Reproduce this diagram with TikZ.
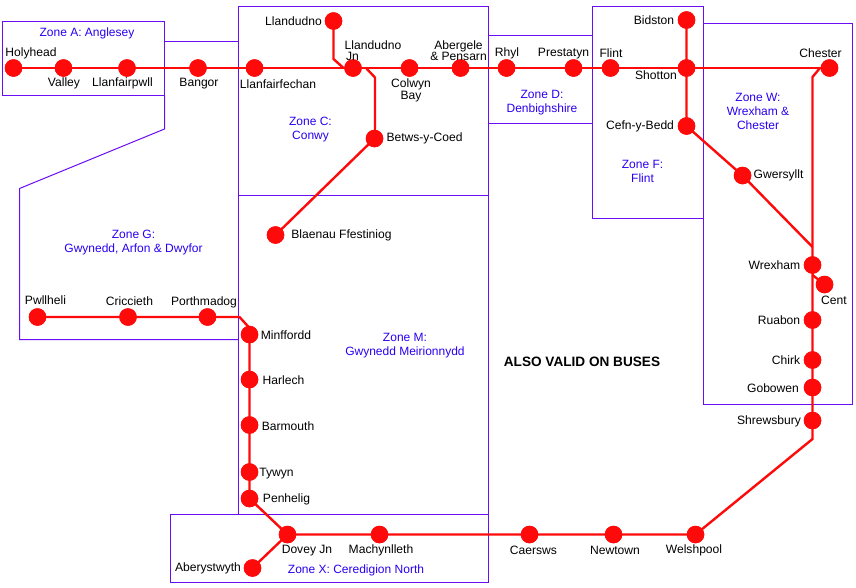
\documentclass[tikz,border=0pt]{standalone}
\usepackage{fontspec}
\setmainfont{Liberation Sans}
\definecolor{zonebox}{HTML}{6A0DF5}
\definecolor{zonetxt}{HTML}{2A00F0}
\definecolor{railred}{HTML}{FF0A0A}
\tikzset{
  zone/.style={draw=zonebox,line width=1pt},
  rail/.style={draw=railred,line width=2.4pt,line join=miter},
  halt/.style={circle,fill=railred,inner sep=0pt,minimum size=17.5pt},
  lab/.style={inner sep=0pt,yshift=-0.6pt,font=\fontsize{12.1}{11.5}\selectfont,align=center,text=black},
  zlab/.style={inner sep=0pt,font=\fontsize{12}{14}\selectfont,align=center,text=zonetxt},
  note/.style={inner sep=0pt,font=\fontsize{13.6}{15}\selectfont\bfseries,text=black}
}
\begin{document}
\begin{tikzpicture}[x=1pt,y=-1pt]
\useasboundingbox (0,0) rectangle (856,587);
% zone outlines
\draw[zone] (2.5,21.5) rectangle (164.5,95.5);
\draw[zone] (164.5,41.5) -- (238.5,41.5);
\draw[zone] (164.5,95.5) -- (164.5,129) -- (19.5,188.5) -- (19.5,339.5) -- (238.5,339.5);
\draw[zone] (238.5,6.5) rectangle (488.5,195.5);
\draw[zone] (238.5,195.5) rectangle (488.5,514.5);
\draw[zone] (170.5,514.5) rectangle (488.5,582.5);
\draw[zone] (488.5,35.5) -- (592.5,35.5);
\draw[zone] (488.5,123.5) -- (592.5,123.5);
\draw[zone] (592.5,6.5) rectangle (703.5,218.5);
\draw[zone] (703.5,23.5) rectangle (852.5,404.5);
% stations
\node[halt] (holyhead) at (13.5,68) {};
\node[halt] (valley) at (63.5,68) {};
\node[halt] (llanfairpwll) at (127,68) {};
\node[halt] (bangor) at (198,68) {};
\node[halt] (llanfairfechan) at (254.5,68) {};
\node[halt] (llandudno) at (333.5,21) {};
\node[halt] (jn) at (353,68) {};
\node[halt] (colwyn) at (409.5,68) {};
\node[halt] (abergele) at (460.5,68) {};
\node[halt] (rhyl) at (506.5,68) {};
\node[halt] (prestatyn) at (573.5,68) {};
\node[halt] (flint) at (610.5,68) {};
\node[halt] (shotton) at (686.5,68) {};
\node[halt] (bidston) at (686.5,20) {};
\node[halt] (cefn) at (686.5,126) {};
\node[halt] (gwersyllt) at (742.5,175.5) {};
\node[halt] (chester) at (829.5,68) {};
\node[halt] (betws) at (374.5,138.5) {};
\node[halt] (blaenau) at (275.5,235) {};
\node[halt] (wrexham) at (812.5,265) {};
\node[halt] (cent) at (824.5,284.5) {};
\node[halt] (ruabon) at (812.5,320) {};
\node[halt] (chirk) at (812.5,360) {};
\node[halt] (gobowen) at (812.5,387.5) {};
\node[halt] (shrewsbury) at (812.5,420.5) {};
\node[halt] (welshpool) at (695.5,534.5) {};
\node[halt] (newtown) at (613.5,534.5) {};
\node[halt] (caersws) at (529.5,534.5) {};
\node[halt] (machynlleth) at (379.5,534.5) {};
\node[halt] (dovey) at (287.5,534.5) {};
\node[halt] (aberystwyth) at (252.5,568) {};
\node[halt] (penhelig) at (249.5,498.5) {};
\node[halt] (tywyn) at (249.5,472) {};
\node[halt] (barmouth) at (249.5,425) {};
\node[halt] (harlech) at (249.5,379.5) {};
\node[halt] (minffordd) at (249.5,334.5) {};
\node[halt] (porthmadog) at (207.5,317) {};
\node[halt] (criccieth) at (128,317) {};
\node[halt] (pwllheli) at (37.5,317) {};
% bends
\coordinate (b1) at (333.5,59);
\coordinate (b2) at (343.5,68);
\coordinate (b3) at (366,68);
\coordinate (b4) at (375,77.5);
\coordinate (b5) at (375,138.5);
\coordinate (b6) at (820,68);
\coordinate (b7) at (812.5,77);
\coordinate (b8) at (812.5,439);
\coordinate (b9) at (812.5,247);
\coordinate (b10) at (812.5,275);
\coordinate (b11) at (239.5,317);
\coordinate (b12) at (249.5,328);
% lines
\draw[rail] (holyhead.center) -- (valley.center) -- (llanfairpwll.center) -- (bangor.center) -- (llanfairfechan.center) -- (jn.center) -- (colwyn.center) -- (abergele.center) -- (rhyl.center) -- (prestatyn.center) -- (flint.center) -- (shotton.center) -- (chester.center);
\draw[rail] (llandudno.center) -- (b1) -- (b2);
\draw[rail] (b3) -- (b4) -- (b5);
\draw[rail] (betws.center) -- (blaenau.center);
\draw[rail] (bidston.center) -- (shotton.center) -- (cefn.center) -- (gwersyllt.center) -- (b9);
\draw[rail] (chester.center) -- (b6) -- (b7) -- (wrexham.center) -- (ruabon.center) -- (chirk.center) -- (gobowen.center) -- (shrewsbury.center) -- (b8) -- (welshpool.center) -- (newtown.center) -- (caersws.center) -- (machynlleth.center) -- (dovey.center) -- (aberystwyth.center);
\draw[rail] (b10) -- (cent.center);
\draw[rail] (dovey.center) -- (penhelig.center) -- (tywyn.center) -- (barmouth.center) -- (harlech.center) -- (minffordd.center) -- (b12) -- (b11) -- (porthmadog.center) -- (criccieth.center) -- (pwllheli.center);
% station discs over the lines
\foreach \n in {holyhead,valley,llanfairpwll,bangor,llanfairfechan,llandudno,jn,colwyn,abergele,rhyl,prestatyn,flint,shotton,bidston,cefn,gwersyllt,chester,betws,blaenau,wrexham,cent,ruabon,chirk,gobowen,shrewsbury,welshpool,newtown,caersws,machynlleth,dovey,aberystwyth,penhelig,tywyn,barmouth,harlech,minffordd,porthmadog,criccieth,pwllheli}
  \fill[railred] (\n) circle (8.75pt);
% station labels
\node[lab] (tholyhead) at (31,53) {Holyhead};
\node[lab] (tvalley) at (64,83) {Valley};
\node[lab] (tllanfairpwll) at (122.5,83) {Llanfairpwll};
\node[lab] (tbangor) at (199,83) {Bangor};
\node[lab] (tllanfairfechan) at (278,84) {Llanfairfechan};
\node[lab] (tllandudno) at (293.5,21) {Llandudno};
\node[lab] (tjn) at (373,50) {Llandudno\\[-0.5pt]\hspace*{-41pt}Jn};
\node[lab] (tcolwyn) at (411,90) {Colwyn\\Bay};
\node[lab] (tabergele) at (458.5,50) {Abergele\\\& Pensarn};
\node[lab] (trhyl) at (507,53) {Rhyl};
\node[lab] (tprestatyn) at (563.5,53) {Prestatyn};
\node[lab] (tflint) at (611,53) {Flint};
\node[lab] (tbidston) at (654,20) {Bidston};
\node[lab] (tshotton) at (656,75) {Shotton};
\node[lab] (tcefn) at (640,126) {Cefn-y-Bedd};
\node[lab] (tgwersyllt) at (778.5,175) {Gwersyllt};
\node[lab] (tchester) at (820.5,53) {Chester};
\node[lab] (tbetws) at (424.5,138) {Betws-y-Coed};
\node[lab] (tblaenau) at (341.5,235) {Blaenau Ffestiniog};
\node[lab] (twrexham) at (774.5,265) {Wrexham};
\node[lab] (tcent) at (834,300) {Cent};
\node[lab] (truabon) at (779,320) {Ruabon};
\node[lab] (tchirk) at (786,360) {Chirk};
\node[lab] (tgobowen) at (773,388) {Gobowen};
\node[lab] (tshrewsbury) at (769,421) {Shrewsbury};
\node[lab] (twelshpool) at (694,550) {Welshpool};
\node[lab] (tnewtown) at (615,550) {Newtown};
\node[lab] (tcaersws) at (533.5,550) {Caersws};
\node[lab] (tmachynlleth) at (381,550) {Machynlleth};
\node[lab] (tdovey) at (307,550) {Dovey Jn};
\node[lab] (taberystwyth) at (208,568) {Aberystwyth};
\node[lab] (tpenhelig) at (286.5,498.5) {Penhelig};
\node[lab] (ttywyn) at (276.5,473) {Tywyn};
\node[lab] (tbarmouth) at (288,425.5) {Barmouth};
\node[lab] (tharlech) at (283.5,380) {Harlech};
\node[lab] (tminffordd) at (286,335) {Minffordd};
\node[lab] (tporthmadog) at (204,302) {Porthmadog};
\node[lab] (tcriccieth) at (129.5,301) {Criccieth};
\node[lab] (tpwllheli) at (45.5,300) {Pwllheli};
% zone labels
\node[zlab] (za) at (87,33) {Zone A: Anglesey};
\node[zlab] (zc) at (310.5,130) {Zone C:\\Conwy};
\node[zlab] (zd) at (542,103) {Zone D:\\Denbighshire};
\node[zlab] (zf) at (642.5,171) {Zone F:\\Flint};
\node[zlab] (zw) at (758,111) {Zone W:\\Wrexham \&\\Chester};
\node[zlab] (zg) at (133.5,243) {Zone G:\\Gwynedd, Arfon \& Dwyfor};
\node[zlab] (zm) at (405,346) {Zone M:\\Gwynedd Meirionnydd};
\node[zlab] (zx) at (356,570) {Zone X: Ceredigion North};
\node[note] (buses) at (582,362) {ALSO VALID ON BUSES};
\end{tikzpicture}
\end{document}
